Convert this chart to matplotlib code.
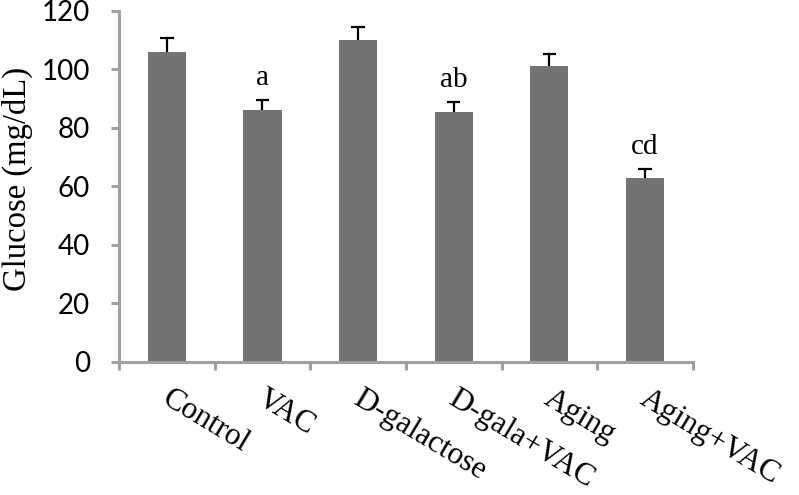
import matplotlib
matplotlib.use("Agg")
import matplotlib.pyplot as plt
import numpy as np

# data
groups = ["Control", "VAC", "D-galactose", "D-gala+VAC", "Aging", "Aging+VAC"]
glucose = [106, 86, 110, 85.5, 101, 63]
sem = [4.8, 3.6, 4.5, 3.5, 4.3, 3.0]
letters = ["", "a", "", "ab", "", "cd"]

fig = plt.figure(figsize=(7.99, 4.95), dpi=100)
ax = fig.add_axes([0.149, 0.269, 0.718, 0.709])

x = np.arange(len(groups))
ax.bar(x, glucose, width=0.4, color="#737373", zorder=2)

# upper-only error bars with a cap
tops = np.array(glucose) + np.array(sem)
ax.vlines(x, glucose, tops, color="black", linewidth=1.6, zorder=3)
ax.hlines(tops, x - 0.07, x + 0.07, color="black", linewidth=1.6, zorder=3)

for xi, top, lab in zip(x, tops, letters):
    if lab:
        ax.text(xi, top + 5, lab, ha="center", va="baseline",
                family="Liberation Serif", fontsize=21)

ax.set_xlim(-0.5, len(groups) - 0.5)
ax.set_ylim(0, 120)
ax.set_yticks(range(0, 121, 20))
ax.set_xticks(np.arange(-0.5, len(groups), 1.0))
ax.set_xticklabels([])
for lbl in ax.get_yticklabels():
    lbl.set_family("Lato")
    lbl.set_fontsize(20)

for side in ["top", "right"]:
    ax.spines[side].set_visible(False)
for side in ["left", "bottom"]:
    ax.spines[side].set_color("#a0a0a0")
    ax.spines[side].set_linewidth(2.2)
ax.tick_params(axis="both", direction="out", length=6, width=2.2, color="#a0a0a0")
ax.tick_params(axis="y", pad=15)

# rotated category labels
for xi, name in zip(x, groups):
    ax.text(xi + 0.05, -7.5, name, rotation=-31, rotation_mode="anchor",
            ha="left", va="top", family="Liberation Serif", fontsize=22.5,
            transform=ax.transData, clip_on=False)

ax.set_ylabel("Glucose (mg/dL)", family="Liberation Serif", fontsize=23.5)
ax.yaxis.set_label_coords(-0.15, 0.52)

fig.savefig("out.png", dpi=100)
